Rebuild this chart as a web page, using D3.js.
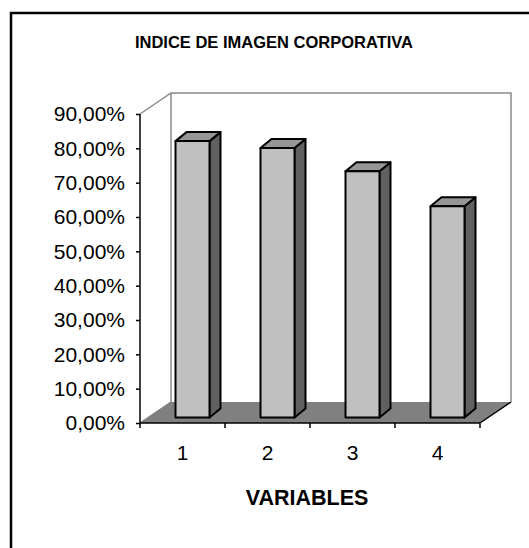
<!DOCTYPE html>
<html>
  <head>
    <meta charset="utf-8">
    <script src="https://d3js.org/d3.v7.min.js"></script>
    <title>Indice de imagen corporativa</title>
    <style>
      body { margin: 0px; background: #fff; }
      text { font-family: "Liberation Sans", Arial, sans-serif; fill: #000; }
      .domain { display: none; }
    </style>
  </head>
  <body>
    <svg width="529" height="548"></svg>
    <script>
      const categories = ['1', '2', '3', '4'];
      const values = [0.805, 0.785, 0.717, 0.615];
      const yTicks = [0, 0.1, 0.2, 0.3, 0.4, 0.5, 0.6, 0.7, 0.8, 0.9];
      const title = 'INDICE DE IMAGEN CORPORATIVA';
      const xLabel = 'VARIABLES';

      const svg = d3.select('svg');

      // plot box (front plane) and 3d depth
      const plotL = 140, plotR = 480, plotT = 114, plotB = 423;
      const depthX = 31, depthY = 21;      // floor / wall depth
      const frontX = 10, frontY = 5.5;     // bar front plane offset
      const barDX = 11, barDY = 9;         // bar depth

      const es = d3.formatLocale({ decimal: ',', thousands: '.', grouping: [3], currency: ['', '€'] });

      const x = d3.scaleBand()
        .domain(categories)
        .range([plotL, plotR])
        .paddingInner(0.6)
        .paddingOuter(0.3);

      const y = d3.scaleLinear()
        .domain([0, 0.9])
        .range([plotB, plotT]);

      // outer frame
      svg.append('rect')
          .attr('x', 11).attr('y', 13)
          .attr('width', 540).attr('height', 560)
          .attr('fill', 'none')
          .attr('stroke', '#000')
          .attr('stroke-width', 2.5);

      svg.append('text')
          .attr('x', 274).attr('y', 48)
          .attr('text-anchor', 'middle')
          .attr('font-size', 16.5)
          .attr('font-weight', 'bold')
          .text(title);

      // floor
      svg.append('path')
          .attr('d', `M${plotL},${plotB}L${plotR},${plotB}L${plotR + depthX},${plotB - depthY}L${plotL + depthX},${plotB - depthY}Z`)
          .attr('fill', '#808080');
      svg.append('line')
          .attr('x1', plotL).attr('y1', plotB)
          .attr('x2', plotL + depthX).attr('y2', plotB - depthY)
          .attr('stroke', '#808080').attr('stroke-width', 1.5);
      svg.append('line')
          .attr('x1', plotR).attr('y1', plotB)
          .attr('x2', plotR + depthX).attr('y2', plotB - depthY)
          .attr('stroke', '#000').attr('stroke-width', 1.5);

      // walls
      svg.append('path')
          .attr('d', `M${plotL},${plotT}L${plotL + depthX},${plotT - depthY}L${plotR + depthX},${plotT - depthY}L${plotR + depthX},${plotB - depthY}`
            + `M${plotL + depthX},${plotT - depthY}L${plotL + depthX},${plotB - depthY}`)
          .attr('fill', 'none')
          .attr('stroke', '#8a8a8a')
          .attr('stroke-width', 1.5);

      // bars
      const bars = svg.append('g').selectAll('g')
        .data(categories.map((c, i) => ({ c, v: values[i] })))
        .join('g')
          .attr('stroke', '#000')
          .attr('stroke-width', 2)
          .attr('stroke-linejoin', 'round');

      const bx0 = d => x(d.c) + frontX;
      const bx1 = d => x(d.c) + frontX + x.bandwidth();
      const byT = d => y(d.v) - frontY;
      const byB = () => y(0) - frontY;

      bars.append('path')
          .attr('fill', '#606060')
          .attr('d', d => `M${bx1(d)},${byT(d)}L${bx1(d) + barDX},${byT(d) - barDY}L${bx1(d) + barDX},${byB() - barDY}L${bx1(d)},${byB()}Z`);
      bars.append('path')
          .attr('fill', '#969696')
          .attr('d', d => `M${bx0(d)},${byT(d)}L${bx0(d) + barDX},${byT(d) - barDY}L${bx1(d) + barDX},${byT(d) - barDY}L${bx1(d)},${byT(d)}Z`);
      bars.append('rect')
          .attr('fill', '#c0c0c0')
          .attr('x', bx0)
          .attr('y', byT)
          .attr('width', x.bandwidth())
          .attr('height', d => byB() - byT(d));

      // y axis
      const yAxisG = svg.append('g')
          .attr('transform', `translate(${plotL},0)`)
          .call(d3.axisLeft(y).tickValues(yTicks).tickFormat(es.format('.2%')).tickSize(4).tickPadding(11));
      yAxisG.selectAll('text').attr('font-size', 21).attr('font-family', null);
      yAxisG.selectAll('.tick line').attr('stroke', '#000').attr('stroke-width', 1.5);
      yAxisG.append('line')
          .attr('x1', 0).attr('x2', 0)
          .attr('y1', plotT).attr('y2', plotB)
          .attr('stroke', '#000').attr('stroke-width', 1.5);

      // x axis
      const xAxisG = svg.append('g')
          .attr('transform', `translate(0,${plotB})`)
          .call(d3.axisBottom(x).tickSize(0).tickPadding(22));
      xAxisG.selectAll('text').attr('font-size', 21).attr('font-family', null);
      xAxisG.append('line')
          .attr('x1', plotL).attr('x2', plotR)
          .attr('stroke', '#000').attr('stroke-width', 1.5);
      const step = x.step();
      xAxisG.selectAll('.bound')
        .data(d3.range(categories.length + 1))
        .join('line')
          .attr('class', 'bound')
          .attr('x1', i => x.range()[0] + i * step)
          .attr('x2', i => x.range()[0] + i * step)
          .attr('y1', 0).attr('y2', 5)
          .attr('stroke', '#000').attr('stroke-width', 1.5);

      svg.append('text')
          .attr('x', 307).attr('y', 505)
          .attr('text-anchor', 'middle')
          .attr('font-size', 21.5)
          .attr('font-weight', 'bold')
          .text(xLabel);
    </script>
  </body>
</html>
